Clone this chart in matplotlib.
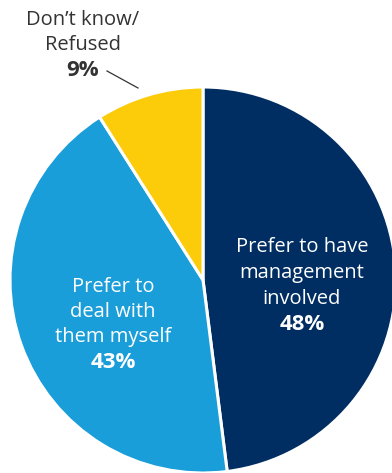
import matplotlib
matplotlib.use("Agg")
import matplotlib.pyplot as plt

# Survey responses
categories = ["Prefer to have\nmanagement\ninvolved", "Prefer to\ndeal with\nthem myself", "Don\u2019t know/\nRefused"]
values = [48, 43, 9]
colors = ["#002D62", "#1A9ED9", "#FCCB0A"]

W, H = 392, 473
fig = plt.figure(figsize=(W / 100, H / 100), dpi=100)
ax = fig.add_axes([0, 0, 1, 1])

cx, cy, r = 203, H - 280, 193
ax.pie(values, colors=colors, startangle=90, counterclock=False,
       center=(cx, cy), radius=r,
       wedgeprops=dict(edgecolor="white", linewidth=2.2))
ax.set_xlim(0, W)
ax.set_ylim(0, H)
ax.set_aspect("equal")
ax.axis("off")

font = "Open Sans"
fs = 14.5
fs_pct = 16

def label(x, y, text, pct, color, step=26):
    lines = text.split("\n")
    for i, line in enumerate(lines):
        ax.text(x, H - (y + i * step), line, ha="center", va="center",
                fontsize=fs, color=color, family=font)
    ax.text(x, H - (y + len(lines) * step), f"{pct}%", ha="center", va="center",
            fontsize=fs_pct, color=color, family=font, fontweight="bold")

label(302, 247, categories[0], values[0], "white", step=26)
label(113, 287, categories[1], values[1], "white", step=25)
label(83, 20, categories[2], values[2], "#333333", step=25.5)

# leader line for the small slice
ax.plot([107, 138], [H - 71, H - 88], color="#333333", linewidth=0.9)

fig.savefig("out.png", dpi=100)
